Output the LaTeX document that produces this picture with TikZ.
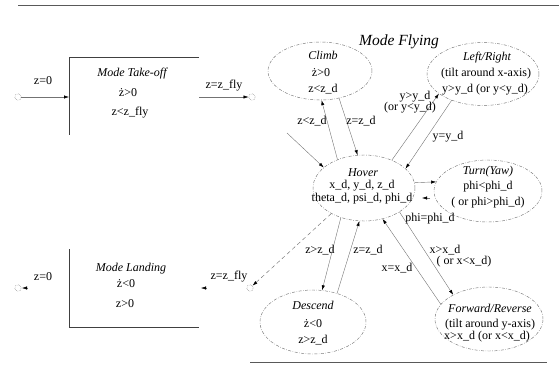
\documentclass[tikz,border=0pt]{standalone}
\usepackage{fontspec}
\setmainfont{Liberation Serif}
\usetikzlibrary{arrows.meta,shapes.geometric}

\tikzset{
  lbl/.style={font=\fontsize{12}{14}\selectfont, inner sep=0pt, text=black},
  ttl/.style={lbl, font=\fontsize{12}{14}\selectfont\itshape},
  state/.style={ellipse, draw=black!55, line width=0.45pt, inner sep=0pt,
    dash pattern=on 3pt off 1.5pt on 0.6pt off 1.5pt},
  port/.style={circle, draw=black!55, densely dotted, line width=0.45pt,
    minimum size=6.5pt, inner sep=0pt},
  edge/.style={draw=black!55, line width=0.4pt,
    -{Latex[length=5pt,width=3.2pt,color=black]}},
  fly/.style={draw=black!55, line width=0.45pt, dash pattern=on 4pt off 3pt,
    -{Latex[length=5pt,width=3.2pt,color=black]}},
  frame/.style={draw=black!75, line width=0.7pt},
  rule/.style={draw=black!65, line width=0.9pt}
}

\begin{document}
\begin{tikzpicture}[x=1pt, y=-1pt]
\path[use as bounding box] (0,0) rectangle (559,383);

% page rules
\coordinate (ruleA) at (18,5);
\coordinate (ruleB) at (559,5);
\coordinate (ruleC) at (250,362);
\coordinate (ruleD) at (547,362);
\draw[rule] (ruleA) -- (ruleB);
\draw[rule] (ruleC) -- (ruleD);

% ---------- take-off mode ----------
\coordinate (toTop) at (199,57);
\coordinate (toCorner) at (69,57);
\coordinate (toBottom) at (69,135);
\draw[frame] (toTop) -- (toCorner) -- (toBottom);
\node[ttl] (toName) at (132,74) {Mode Take-off};
\node[lbl] (toRate) at (128,93) {ż>0};
\node[lbl] (toHeight) at (130,113) {z<z\_fly};

\node[port] (toIn) at (18,97) {};
\coordinate (toEntry) at (69,97);
\coordinate (toExit) at (199,97);
\node[port] (toOut) at (252,97) {};
\draw[edge] (toIn) -- (toEntry);
\draw[edge] (toExit) -- (toOut);
\node[lbl] (toInLbl) at (43,81) {z=0};
\node[lbl] (toOutLbl) at (224,86) {z=z\_fly};

% ---------- landing mode ----------
\coordinate (ldTop) at (69,249);
\coordinate (ldCorner) at (69,327);
\coordinate (ldRight) at (199,327);
\draw[frame] (ldTop) -- (ldCorner) -- (ldRight);
\node[ttl] (ldName) at (131,269) {Mode Landing};
\node[lbl] (ldRate) at (126,284) {ż<0};
\node[lbl] (ldHeight) at (125,304) {z>0};

\node[port] (ldOut) at (18,288) {};
\node[port] (ldIn) at (250,288) {};
\coordinate (ldStubA) at (28,288);
\coordinate (ldTipA) at (22,288);
\coordinate (ldStubB) at (207,288);
\coordinate (ldTipB) at (201,288);
\draw[edge] (ldStubA) -- (ldTipA);
\draw[edge] (ldStubB) -- (ldTipB);
\node[lbl] (ldOutLbl) at (43,277) {z=0};
\node[lbl] (ldInLbl) at (229,277) {z=z\_fly};

% ---------- flying mode ----------
\node[lbl, font=\fontsize{15.5}{18}\selectfont\itshape] (flyName) at (399,42) {Mode Flying};

\node[state, minimum width=104pt, minimum height=58pt] (climb) at (320,71) {};
\node[ttl] at (323,55) {Climb};
\node[lbl] at (321,73) {ż>0};
\node[lbl] at (323,89) {z<z\_d};

\node[state, minimum width=112pt, minimum height=63pt] (side) at (483,74) {};
\node[ttl] at (487,58) {Left/Right};
\node[lbl] at (486,74) {(tilt around x-axis)};
\node[lbl] at (485,90) {y>y\_d (or y<y\_d)};

\node[state, minimum width=102pt, minimum height=66pt] (hover) at (364,188) {};
\node[ttl] at (363,173) {Hover};
\node[lbl] at (362,186) {x\_d, y\_d, z\_d};
\node[lbl] at (362,199) {theta\_d, psi\_d, phi\_d};

\node[state, minimum width=108pt, minimum height=62pt] (yaw) at (488,191) {};
\node[ttl] at (488,172) {Turn(Yaw)};
\node[lbl] at (488,187) {phi<phi\_d};
\node[lbl] at (488,203) {( or phi>phi\_d)};

\node[state, minimum width=106pt, minimum height=64pt] (descend) at (313,322) {};
\node[ttl] at (313,305) {Descend};
\node[lbl] at (313,324) {ż<0};
\node[lbl] at (313,340) {z>z\_d};

\node[state, minimum width=108pt, minimum height=64pt] (forward) at (489,319) {};
\node[ttl] at (490,308) {Forward/Reverse};
\node[lbl] at (490,325) {(tilt around y-axis)};
\node[lbl] at (487,337) {x>x\_d (or x<x\_d)};

% transitions
\coordinate (entry) at (287,133);
\draw[edge] (entry) -- (hover.153);

\draw[edge] (hover.133) -- (climb.-87);
\draw[edge] (climb.-55) -- (hover.101);
\node[lbl] at (312,121) {z<z\_d};
\node[lbl] at (361,121) {z=z\_d};

\draw[edge] (hover.45) -- (side.204);
\draw[edge] (side.220) -- (hover.25);
\node[lbl] at (415,97) {y>y\_d};
\node[lbl] at (410,108) {(or y<y\_d)};
\node[lbl] at (448,137) {y=y\_d};

\draw[edge] (hover.6) -- (yaw.170);
\coordinate (yawTail) at (430,198);
\coordinate (yawTip) at (422,198);
\draw[edge] (yawTail) -- (yawTip);
\node[lbl] at (430,219) {phi=phi\_d};

\draw[edge] (hover.232) -- (descend.74);
\draw[edge] (descend.50) -- (hover.262);
\node[lbl] at (320,250) {z>z\_d};
\node[lbl] at (368,250) {z=z\_d};

\draw[edge] (forward.163) -- (hover.301);
\draw[edge] (hover.326) -- (forward.146);
\node[lbl] at (397,268) {x=x\_d};
\node[lbl] at (445,250) {x>x\_d};
\node[lbl] at (464,262) {( or x<x\_d)};

\draw[fly] (hover.218) -- (ldIn);
\end{tikzpicture}
\end{document}
